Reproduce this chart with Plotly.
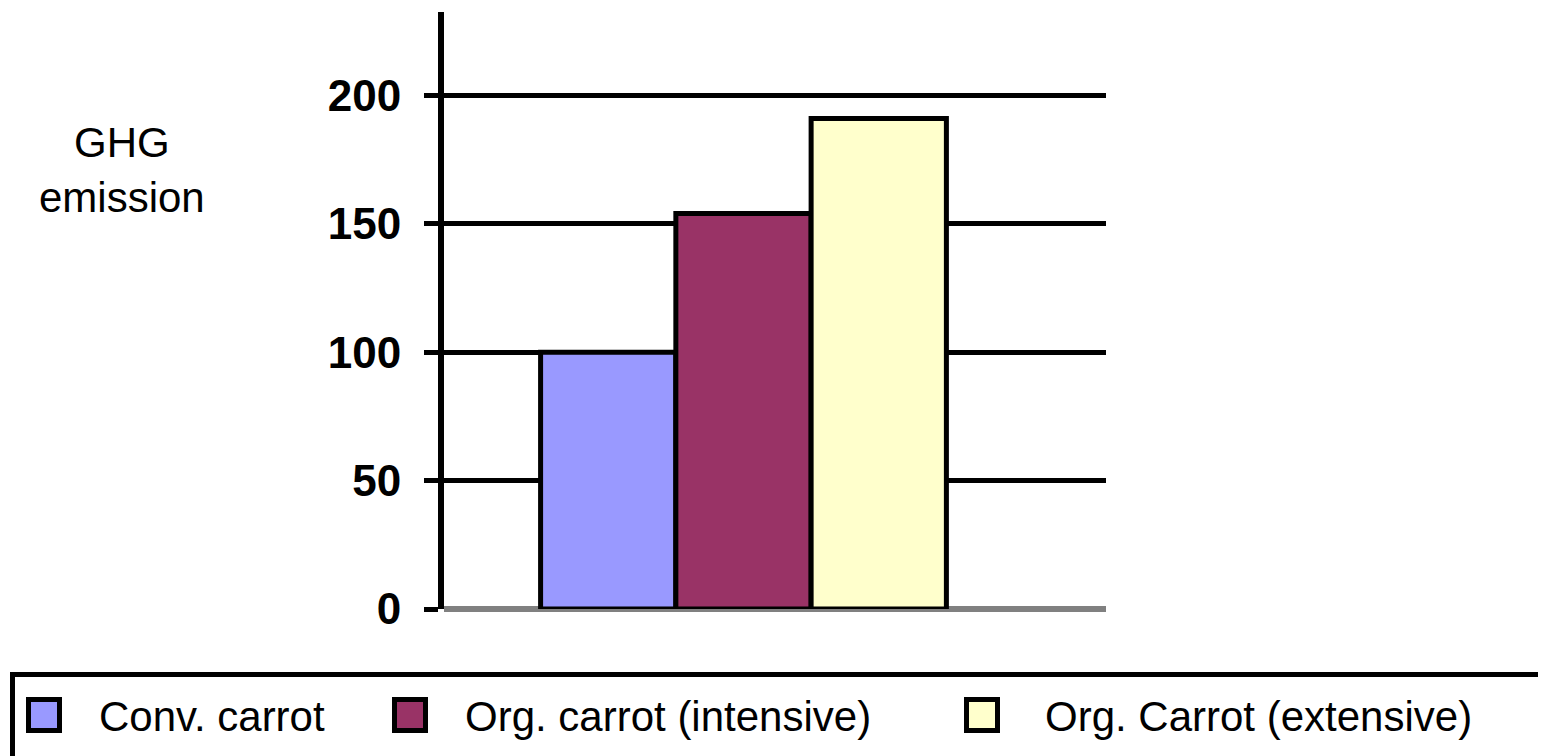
import plotly.graph_objects as go

# ---- data ----
series = ["Conv. carrot", "Org. carrot (intensive)", "Org. Carrot (extensive)"]
values = [100, 154, 191]
colors = ["#9999FF", "#993366", "#FFFFCC"]
y_ticks = [0, 50, 100, 150, 200]
y_title = "GHG<br>emission"

# ---- layout geometry (page pixels; the html body adds an 8px offset) ----
OFF = 8
W_PX, H_PX = 1546 - OFF, 756 - OFF
L, R, T, B = 444 - OFF, 1106 - OFF, 12 - OFF, 609 - OFF
PW, PH = R - L, B - T

def px_x(x):
    return (x - OFF - L) / PW

def px_y(y):
    return (B - (y - OFF)) / PH

FONT = "Liberation Sans, Arial, sans-serif"

fig = go.Figure()
for name, v, c in zip(series, values, colors):
    fig.add_trace(go.Bar(
        x=[0], y=[v], name=name,
        marker=dict(color=c, line=dict(color="black", width=5)),
        showlegend=False,
    ))

shapes = []
annotations = []

# legend box (extends beyond page like the reference)
shapes.append(dict(type="rect", xref="paper", yref="paper",
                   x0=px_x(12.5), x1=px_x(1580), y0=px_y(674.5), y1=px_y(800),
                   line=dict(color="black", width=5), fillcolor="rgba(0,0,0,0)"))
sq_cx = [44, 410, 982]
txt_x = [97, 463, 1043]
sq_cy = 715
half = 15.5
for name, c, cx, tx in zip(series, colors, sq_cx, txt_x):
    shapes.append(dict(type="rect", xref="paper", yref="paper",
                       x0=px_x(cx - half), x1=px_x(cx + half),
                       y0=px_y(sq_cy + half), y1=px_y(sq_cy - half),
                       line=dict(color="black", width=5), fillcolor=c))
    annotations.append(dict(xref="paper", yref="paper", x=px_x(tx), y=px_y(716),
                            xanchor="left", yanchor="middle", showarrow=False,
                            text=name, font=dict(family=FONT, size=42, color="black")))

annotations.append(dict(xref="paper", yref="paper", x=px_x(122), y=px_y(170),
                        xanchor="center", yanchor="middle", showarrow=False,
                        text=y_title, align="center",
                        font=dict(family=FONT, size=42, color="black")))

fig.update_layout(
    width=W_PX, height=H_PX,
    margin=dict(l=L, r=W_PX - R, t=T, b=H_PX - B, autoexpand=False),
    paper_bgcolor="white", plot_bgcolor="white",
    barmode="group", bargap=0.387, bargroupgap=0,
    shapes=shapes, annotations=annotations,
    xaxis=dict(range=[-0.4524, 0.5476], showticklabels=False, showgrid=False,
               zeroline=False, showline=False, ticks=""),
    yaxis=dict(range=[0, 232.5], tickvals=y_ticks, ticktext=[str(t) for t in y_ticks],
               showgrid=True, gridcolor="black", gridwidth=5,
               zeroline=True, zerolinecolor="#808080", zerolinewidth=6,
               showline=True, linecolor="black", linewidth=6,
               ticks="outside", ticklen=14, tickwidth=5, tickcolor="black",
               ticklabelstandoff=14,
               tickfont=dict(family=FONT, size=44, color="black", weight="bold")),
)

fig.write_html("out.html")
